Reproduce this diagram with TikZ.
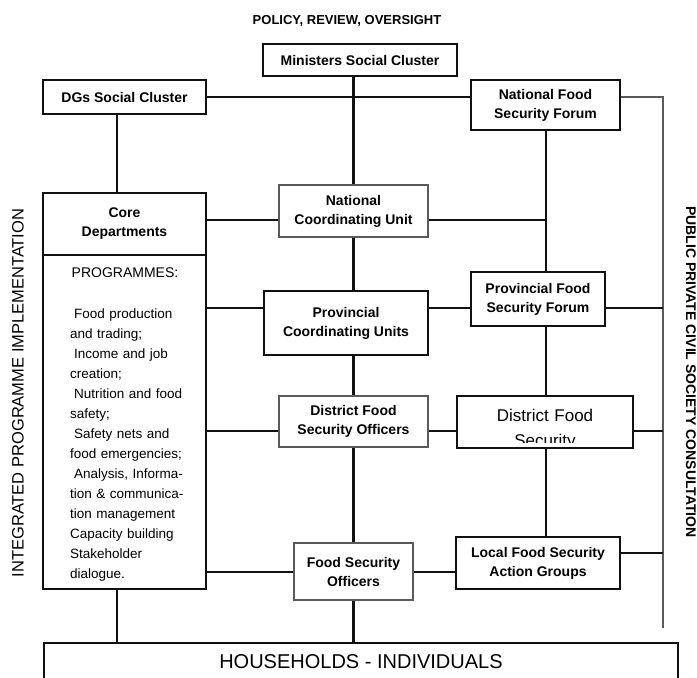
\documentclass[tikz,border=0pt]{standalone}
\usepackage{fontspec}
\setmainfont{Liberation Sans}
\usepackage{xcolor}
\usepackage{tikz}
\usetikzlibrary{calc}
\definecolor{ink}{HTML}{111111}
\definecolor{rim}{HTML}{5A5A5A}
\tikzset{
  orgBox/.style={draw=ink, line width=2.2pt, fill=white, align=center, inner sep=2pt,
    font=\bfseries\fontsize{14}{19}\selectfont},
  orgBoxThin/.style={orgBox, draw=rim, line width=1.4pt},
  orgLink/.style={draw=ink, line width=2pt},
  spineLink/.style={draw=ink, line width=2.5pt},
  railLink/.style={draw=rim, line width=2.2pt},
  headText/.style={font=\bfseries\fontsize{13}{16}\selectfont},
  sideText/.style={font=\fontsize{16.5}{19}\selectfont, inner sep=0pt},
  listText/.style={font=\fontsize{13.5}{20}\selectfont, align=left, text width=140pt, inner sep=0pt}
}

\begin{document}
\begin{tikzpicture}[x=1pt,y=-1pt]
  \useasboundingbox (0,0) rectangle (697,678);

  \node[headText] (policy) at (347,21) {POLICY, REVIEW, OVERSIGHT};

  % top level
  \node[orgBox, minimum width=194, minimum height=32] (min) at (360,60) {Ministers Social Cluster};
  \node[orgBox, minimum width=163, minimum height=34] (dgs) at (124.5,97) {DGs Social Cluster};
  \node[orgBox, minimum width=149, minimum height=50] (nfsf) at (545.5,105) {National Food\\Security Forum};

  % core departments and programmes
  \node[orgBox, line width=1.6pt, minimum width=163, minimum height=62] (core) at (124.5,224) {Core\\Departments};
  \node[orgBox, line width=1.6pt, minimum width=163, minimum height=334] (prog) at (124.5,422) {};
  \node[font=\fontsize{14}{17}\selectfont] (progHead) at (125,273) {PROGRAMMES:};
  \node[listText, anchor=base west] (progList) at (70,318) {%
    \hspace*{4pt}Food production\\and trading;\\
    \hspace*{4pt}Income and job\\creation;\\
    \hspace*{4pt}Nutrition and food\\safety;\\
    \hspace*{4pt}Safety nets and\\food emergencies;\\
    \hspace*{4pt}Analysis, Informa-\\tion \& communica-\\tion management\\
    Capacity building\\Stakeholder\\dialogue.};

  % middle column
  \node[orgBoxThin, minimum width=149, minimum height=52] (ncu) at (353.5,211) {National\\Coordinating Unit};
  \node[orgBox, minimum width=164, minimum height=64] (pcu) at (346,323) {Provincial\\Coordinating Units};
  \node[orgBoxThin, minimum width=149, minimum height=51] (dfso) at (353.5,421.5) {District Food\\Security Officers};
  \node[orgBoxThin, minimum width=119, minimum height=57] (fso) at (353.5,571.5) {Food Security\\Officers};

  % forum column
  \node[orgBox, minimum width=134, minimum height=54] (pfsf) at (538,299) {Provincial Food\\Security Forum};
  \node[orgBox, minimum width=176, minimum height=52] (dfs) at (545,422) {};
  \begin{scope}
    \clip (dfs.north west) rectangle ($(dfs.south east)+(0,-7)$);
    \node[font=\fontsize{17}{25}\selectfont, align=center, text width=170pt, inner sep=0pt, anchor=base] (dfsText) at (545,421) {District Food\\Security};
  \end{scope}
  \node[orgBox, minimum width=164, minimum height=52] (lfsag) at (538,563) {Local Food Security\\Action Groups};

  \node[orgBox, font=\fontsize{20}{24}\selectfont, minimum width=634, minimum height=38, anchor=north] (hh) at (361,642) {HOUSEHOLDS - INDIVIDUALS};

  \node[sideText, rotate=90] (implLabel) at (18,393) {INTEGRATED PROGRAMME IMPLEMENTATION};
  \node[sideText, font=\bfseries\fontsize{14}{17}\selectfont, rotate=-90] (consultLabel) at (691,372) {PUBLIC PRIVATE CIVIL SOCIETY CONSULTATION};

  \coordinate (railTop) at (663,97);
  \coordinate (railEnd) at (663,628);
  \coordinate (leftSpine) at (117,0);
  \coordinate (rowNcu) at (0,220);
  \coordinate (rowPcu) at (0,308);
  \coordinate (rowDist) at (0,431);
  \coordinate (rowLocal) at (0,553);
  \coordinate (rowFso) at (0,572);

  % central spine
  \draw[spineLink] (ncu.north |- min.south) -- (ncu.north);
  \draw[spineLink] (ncu.south) -- (ncu.south |- pcu.north);
  \draw[spineLink] (ncu.south |- pcu.south) -- (dfso.north);
  \draw[spineLink] (dfso.south) -- (fso.north);
  \draw[spineLink] (fso.south) -- (fso.south |- hh.north);

  % left side
  \draw[orgLink] (leftSpine |- dgs.south) -- (leftSpine |- core.north);
  \draw[orgLink] (leftSpine |- prog.south) -- (leftSpine |- hh.north);
  \draw[orgLink] (dgs.east) -- (dgs.east -| nfsf.west);
  \draw[orgLink] (core.east |- rowNcu) -- (ncu.west |- rowNcu);
  \draw[orgLink] (prog.east |- rowPcu) -- (pcu.west |- rowPcu);
  \draw[orgLink] (prog.east |- rowDist) -- (dfso.west |- rowDist);
  \draw[orgLink] (prog.east |- rowFso) -- (fso.west |- rowFso);

  % forum trunk
  \draw[orgLink] (nfsf.south) -- (nfsf.south |- pfsf.north);
  \draw[orgLink] (ncu.east |- rowNcu) -- (nfsf.south |- rowNcu);
  \draw[orgLink] (nfsf.south |- pfsf.south) -- (nfsf.south |- dfs.north);
  \draw[orgLink] (nfsf.south |- dfs.south) -- (nfsf.south |- lfsag.north);
  \draw[orgLink] (pcu.east |- rowPcu) -- (pfsf.west |- rowPcu);
  \draw[orgLink] (dfso.east |- rowDist) -- (dfs.west |- rowDist);
  \draw[orgLink] (fso.east |- rowFso) -- (lfsag.west |- rowFso);

  % consultation rail
  \draw[railLink] (nfsf.east |- railTop) -- (railTop) -- (railEnd);
  \draw[orgLink] (pfsf.east |- rowPcu) -- (railTop |- rowPcu);
  \draw[orgLink] (dfs.east |- rowDist) -- (railTop |- rowDist);
  \draw[orgLink] (lfsag.east |- rowLocal) -- (railTop |- rowLocal);
\end{tikzpicture}
\end{document}
